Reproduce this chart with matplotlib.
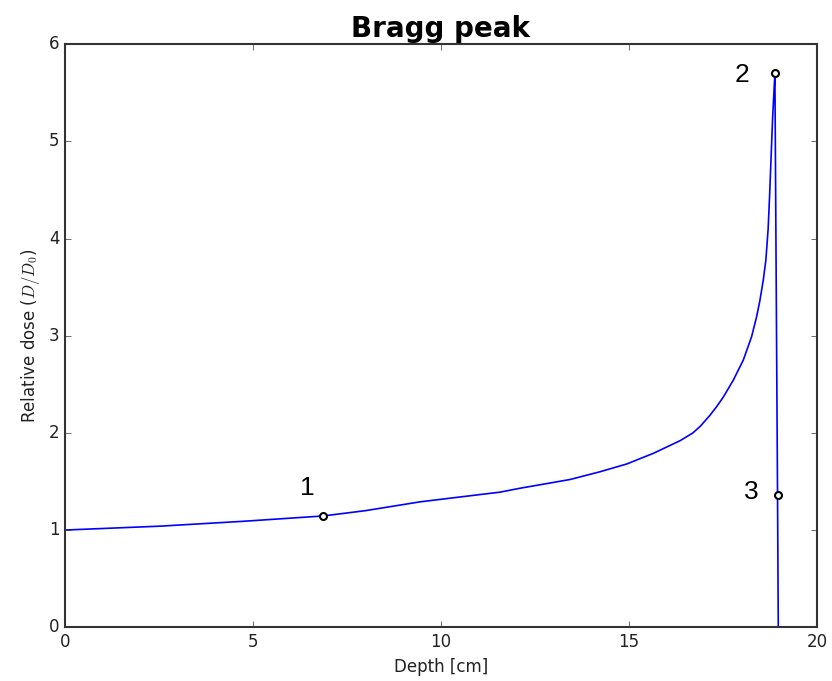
import matplotlib
matplotlib.use('Agg')
import matplotlib.pyplot as plt

plt.style.use('classic')

# depth-dose curve
depth = [0.0, 2.53, 4.74, 6.87, 8.0, 9.44, 10.5, 11.57, 12.1, 13.43, 14.23,
         14.94, 15.65, 16.36, 16.7, 16.9, 17.15, 17.33, 17.51, 17.77, 18.04,
         18.26, 18.39, 18.48, 18.57, 18.64, 18.7, 18.74, 18.78, 18.82,
         18.86, 18.88, 18.95, 18.97]
dose = [1.0, 1.04, 1.09, 1.145, 1.20, 1.29, 1.34, 1.39, 1.43, 1.52, 1.60,
        1.68, 1.79, 1.92, 2.0, 2.07, 2.18, 2.27, 2.37, 2.54, 2.75,
        2.99, 3.19, 3.36, 3.57, 3.78, 4.1, 4.45, 4.85, 5.25,
        5.55, 5.70, 1.36, 0.0]

# marked points
mark_labels = ['1', '2', '3']
mark_depth = [6.87, 18.88, 18.95]
mark_dose = [1.145, 5.70, 1.36]
label_depth = [6.44, 18.0, 18.24]
label_dose = [1.43, 5.68, 1.39]

fig = plt.figure(figsize=(8.32, 6.81), dpi=100, facecolor='white')
ax = fig.add_axes([0.078, 0.079, 0.904, 0.856])

ax.plot(depth, dose, color='b', linewidth=1.2)
ax.plot(mark_depth, mark_dose, 'o', markerfacecolor='white',
        markeredgecolor='black', markeredgewidth=1.5, markersize=5)

for lab, x, y in zip(mark_labels, label_depth, label_dose):
    ax.text(x, y, lab, fontsize=19, ha='center', va='center',
            family='Liberation Sans')

ax.set_xlim(0, 20)
ax.set_ylim(0, 6)
ax.set_xticks([0, 5, 10, 15, 20])
ax.set_yticks([0, 1, 2, 3, 4, 5, 6])
for sp in ax.spines.values():
    sp.set_color('#333333')
    sp.set_linewidth(1.5)
ax.tick_params(colors='#333333', labelcolor='#222222')
ax.set_xlabel('Depth [cm]', fontsize=12, color='#222222')
ax.set_ylabel('Relative dose ($D/D_0$)', fontsize=12, color='#222222')
ax.set_title('Bragg peak', fontsize=20, fontweight='bold')

fig.savefig('out.png', dpi=100, facecolor='white')
